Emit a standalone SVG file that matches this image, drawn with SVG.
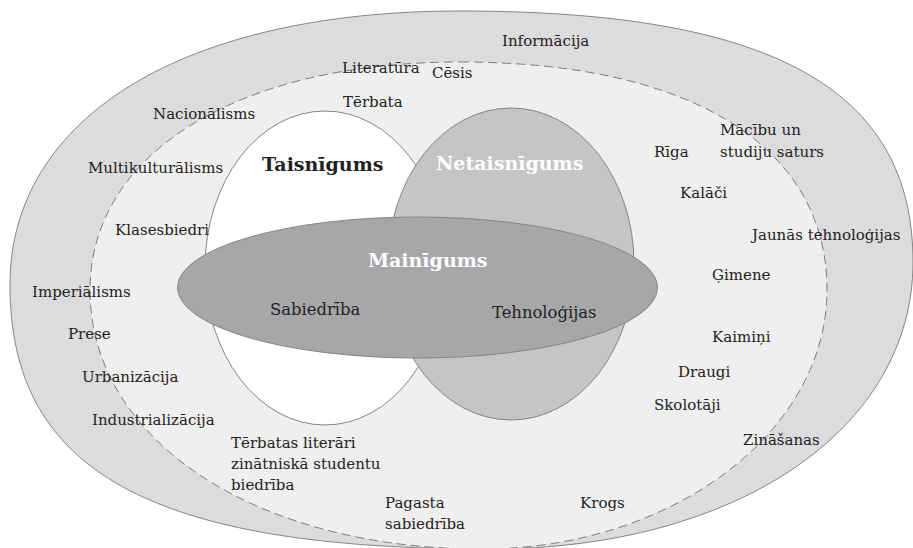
<svg xmlns="http://www.w3.org/2000/svg" width="913" height="548" viewBox="0 0 913 548">
<style>
.sh{stroke:#858585;stroke-width:1}
.lbl{font-family:"DejaVu Serif","Liberation Serif",serif;font-size:15px;fill:#222}
.mid{font-size:16.4px}
.big{font-family:"DejaVu Serif","Liberation Serif",serif;font-size:19px;font-weight:bold}
</style>
<rect width="913" height="548" fill="#ffffff"/>
<g id="outer-ring">
<path class="sh" fill="#dcdcde" d="M460,11 C772,11 913,89 913,262 C913,429 737,549 490,549 C150,549 10,471 10,285 C10,117 184,11 460,11 Z"/>
</g>
<g id="inner-ring">
<path fill="#efefef" stroke="#707070" stroke-width="0.9" stroke-dasharray="9 5" d="M460,62 C691,62 827,146 827,290 C827,432 672,549 482,549 C255,549 90,440 90,290 C90,153 238,62 460,62 Z"/>
</g>
<g id="taisnigums">
<ellipse class="sh" fill="#ffffff" cx="325" cy="268" rx="120" ry="157"/>
</g>
<g id="netaisnigums">
<ellipse class="sh" fill="#c5c5c7" cx="511" cy="264" rx="123" ry="156"/>
</g>
<g id="mainigums">
<ellipse class="sh" fill="#a7a7a9" cx="417.5" cy="287.5" rx="240" ry="70.5"/>
</g>
<g id="connectors"/>
<g id="titles">
<text class="big" x="262" y="171" fill="#222">Taisnīgums</text>
<text class="big" x="436" y="170" fill="#ffffff">Netaisnīgums</text>
<text class="big" x="368" y="267" fill="#ffffff">Mainīgums</text>
</g>
<g id="labels" class="lbl">
<text x="502" y="46">Informācija</text>
<text x="342" y="73">Literatūra</text>
<text x="432" y="78">Cēsis</text>
<text x="343" y="107">Tērbata</text>
<text x="153" y="119">Nacionālisms</text>
<text x="88" y="173">Multikulturālisms</text>
<text x="115" y="235">Klasesbiedri</text>
<text x="720" y="135">Mācību un</text>
<text x="720" y="157">studiju saturs</text>
<text x="654" y="157">Rīga</text>
<text x="680" y="198">Kalāči</text>
<text x="752" y="240">Jaunās tehnoloģijas</text>
<text x="712" y="280">Ģimene</text>
<text x="32" y="297">Imperiālisms</text>
<text class="mid" x="270" y="315">Sabiedrība</text>
<text class="mid" x="492" y="318">Tehnoloģijas</text>
<text x="68" y="339">Prese</text>
<text x="712" y="342">Kaimiņi</text>
<text x="82" y="382">Urbanizācija</text>
<text x="678" y="377">Draugi</text>
<text x="654" y="410">Skolotāji</text>
<text x="92" y="425">Industrializācija</text>
<text x="743" y="445">Zināšanas</text>
<text x="231" y="448">Tērbatas literāri</text>
<text x="231" y="469">zinātniskā studentu</text>
<text x="231" y="490">biedrība</text>
<text x="385" y="508">Pagasta</text>
<text x="385" y="529">sabiedrība</text>
<text x="580" y="508">Krogs</text>
</g>
</svg>
